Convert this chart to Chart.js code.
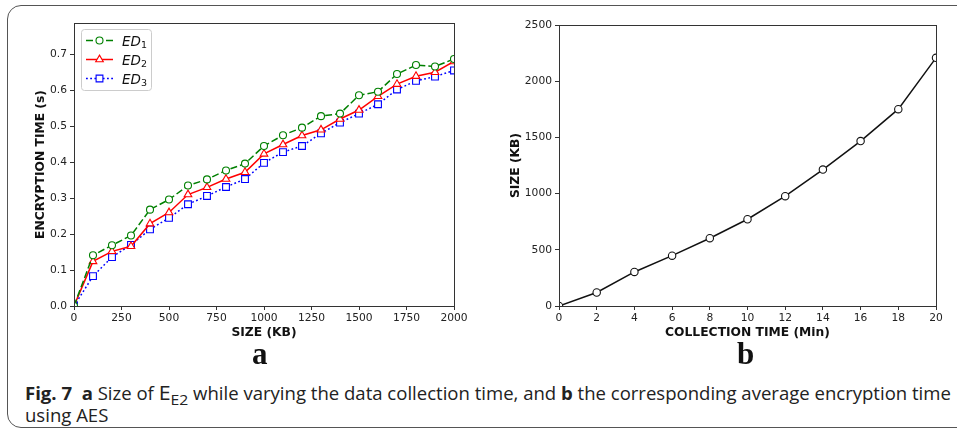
<!DOCTYPE html>
<html>
<head>
<meta charset="utf-8">
<script src="https://cdn.jsdelivr.net/npm/chart.js@4/dist/chart.umd.min.js"></script>
<style>
  html, body { margin: 0; padding: 0; background: #fff; }
  #page { position: relative; width: 957px; height: 431px; overflow: hidden; }
  #card {
    position: absolute; left: 7px; top: 5px; width: 970px; height: 423px;
    border: 1.5px solid #555; border-radius: 14px; box-sizing: border-box;
  }
  canvas { position: absolute; }
  #chartA { left: 0; top: 0; }
  #chartB { left: 480px; top: 0; }
  .panel {
    position: absolute; top: 339px; font-family: "Liberation Serif", "DejaVu Serif", serif;
    font-weight: bold; font-size: 31px; line-height: 30px; color: #111;
  }
  #caption {
    position: absolute; left: 25px; top: 381px; font-family: "Open Sans", "Noto Sans", sans-serif;
    font-size: 18px; line-height: 22px; color: #222; white-space: nowrap; transform-origin: 0 0;
  }
  #caption sub { font-size: 0.85em; vertical-align: -0.3em; line-height: 0; }
</style>
</head>
<body>
<div id="page">
  <div id="card"></div>
  <canvas id="chartA" width="480" height="345"></canvas>
  <canvas id="chartB" width="477" height="345"></canvas>
  <div class="panel" style="left:252px">a</div>
  <div class="panel" style="left:737px">b</div>
  <div id="caption">
    <div id="capLine1"><b>Fig. 7</b>&nbsp; <b>a</b> Size of <span style="font-size:1.15em">E</span><sub>E2</sub> while varying the data collection time, and <b>b</b> the corresponding average encryption time</div>
    <div>using AES</div>
  </div>
</div>
<script>
// panel a: encryption time vs size
const sizeKB = [0, 100, 200, 300, 400, 500, 600, 700, 800, 900, 1000, 1100, 1200, 1300, 1400, 1500, 1600, 1700, 1800, 1900, 2000];
const ed1 = [0, 0.141, 0.169, 0.196, 0.268, 0.296, 0.335, 0.352, 0.377, 0.396, 0.445, 0.475, 0.496, 0.528, 0.535, 0.586, 0.596, 0.645, 0.670, 0.666, 0.687];
const ed2 = [0, 0.124, 0.152, 0.166, 0.229, 0.260, 0.310, 0.330, 0.353, 0.372, 0.423, 0.449, 0.474, 0.490, 0.520, 0.545, 0.583, 0.617, 0.639, 0.650, 0.680];
const ed3 = [0, 0.083, 0.136, 0.170, 0.213, 0.245, 0.283, 0.306, 0.331, 0.353, 0.398, 0.428, 0.445, 0.480, 0.510, 0.535, 0.561, 0.602, 0.626, 0.638, 0.655];
const aTicksX = [0, 250, 500, 750, 1000, 1250, 1500, 1750, 2000];
const aTicksY = [0, 0.1, 0.2, 0.3, 0.4, 0.5, 0.6, 0.7];
const legendNames = ["ED|1", "ED|2", "ED|3"];

// panel b: size vs collection time
const collectMin = [0, 2, 4, 6, 8, 10, 12, 14, 16, 18, 20];
const sizeCollected = [0, 120, 303, 448, 603, 772, 977, 1214, 1467, 1751, 2208];
const bTicksX = [0, 2, 4, 6, 8, 10, 12, 14, 16, 18, 20];
const bTicksY = [0, 500, 1000, 1500, 2000, 2500];

const axisColor = "#333";
const tickFont = { family: "DejaVu Sans", size: 10.7 };
const titleFont = { family: "DejaVu Sans", size: 12.3, weight: "bold" };

function pts(xs, ys) {
  return xs.map((x, i) => ({ x: x, y: ys[i] }));
}

function fixedTicks(list) {
  return function (scale) {
    scale.ticks = list.map(v => ({ value: v }));
  };
}

const framePlugin = {
  id: "frame",
  afterDraw(chart) {
    const a = chart.chartArea;
    const ctx = chart.ctx;
    ctx.save();
    ctx.strokeStyle = axisColor;
    ctx.lineWidth = 1;
    ctx.strokeRect(Math.round(a.left) + 0.5, Math.round(a.top) + 0.5, Math.round(a.right - a.left), Math.round(a.bottom - a.top));
    ctx.restore();
  }
};

// legend drawn inside the plot like matplotlib's upper-left legend
const insideLegend = {
  id: "insideLegend",
  afterDraw(chart) {
    if (chart.canvas.id !== "chartA") return;
    const ctx = chart.ctx;
    const a = chart.chartArea;
    const bx = a.left + 7, by = a.top + 6, bw = 70, bh = 61;
    ctx.save();
    ctx.fillStyle = "rgba(255,255,255,0.85)";
    ctx.strokeStyle = "#ccc";
    ctx.lineWidth = 1;
    ctx.beginPath();
    ctx.roundRect(bx + 0.5, by + 0.5, bw, bh, 3);
    ctx.fill();
    ctx.stroke();
    chart.data.datasets.forEach((ds, i) => {
      const y = by + 11.5 + i * 19;
      const x0 = bx + 5, x1 = bx + 32;
      ctx.strokeStyle = ds.borderColor;
      ctx.lineWidth = ds.borderWidth;
      ctx.setLineDash(ds.borderDash || []);
      ctx.beginPath();
      ctx.moveTo(x0, y);
      ctx.lineTo(x1, y);
      ctx.stroke();
      ctx.setLineDash([]);
      ctx.fillStyle = "#fff";
      ctx.strokeStyle = ds.borderColor;
      ctx.lineWidth = ds.pointBorderWidth;
      Chart.helpers.drawPoint(ctx, {
        pointStyle: ds.pointStyle, radius: ds.pointRadius, borderWidth: ds.pointBorderWidth, rotation: 0
      }, (x0 + x1) / 2, y);
      const parts = legendNames[i].split("|");
      ctx.fillStyle = "#111";
      ctx.textBaseline = "alphabetic";
      ctx.font = "oblique 13.5px 'DejaVu Sans'";
      ctx.fillText(parts[0], bx + 41, y + 5);
      const w = ctx.measureText(parts[0]).width;
      ctx.font = "9.5px 'DejaVu Sans'";
      ctx.fillText(parts[1], bx + 41 + w, y + 7.5);
    });
    ctx.restore();
  }
};

function makeScales(opt) {
  return {
    x: {
      type: "linear",
      min: opt.xmin, max: opt.xmax,
      afterBuildTicks: fixedTicks(opt.xticks),
      afterFit(scale) { scale.height = 39; },
      grid: { drawOnChartArea: false, drawTicks: true, tickLength: 4, color: axisColor },
      border: { display: true, color: axisColor, width: 1 },
      ticks: { font: tickFont, color: "#222", padding: 2, maxRotation: 0, callback: opt.xfmt },
      title: { display: true, text: opt.xtitle, font: titleFont, color: "#111", padding: { top: 4, bottom: 5 } }
    },
    y: {
      type: "linear",
      min: 0, max: opt.ymax,
      afterBuildTicks: fixedTicks(opt.yticks),
      afterFit(scale) { scale.width = opt.yaxisWidth; },
      grid: { drawOnChartArea: false, drawTicks: true, tickLength: 4, color: axisColor },
      border: { display: true, color: axisColor, width: 1 },
      ticks: { font: tickFont, color: "#222", padding: 3, callback: opt.yfmt },
      title: { display: true, text: opt.ytitle, font: titleFont, color: "#111", padding: { top: opt.ytitlePad, bottom: 0 } }
    }
  };
}

const baseOptions = {
  responsive: false,
  animation: false,
  devicePixelRatio: 1,
  plugins: { legend: { display: false }, tooltip: { enabled: false } }
};

function lineSet(label, data, color, style, radius, dash) {
  return {
    label: label,
    data: data,
    borderColor: color,
    backgroundColor: "#fff",
    borderWidth: 1.5,
    borderDash: dash,
    pointStyle: style,
    pointRadius: radius,
    pointBorderWidth: 1.1,
    pointBackgroundColor: "#fff",
    pointBorderColor: color,
    tension: 0,
    fill: false
  };
}

new Chart(document.getElementById("chartA").getContext("2d"), {
  type: "line",
  data: {
    datasets: [
      lineSet("ED1", pts(sizeKB, ed1), "#008000", "circle", 3.5, [7, 3]),
      lineSet("ED2", pts(sizeKB, ed2), "#ff0000", "triangle", 4.4, []),
      lineSet("ED3", pts(sizeKB, ed3), "#0000ff", "rect", 4.8, [1.8, 2.4])
    ]
  },
  options: Object.assign({}, baseOptions, {
    layout: { padding: { left: 0, right: 26, top: 23, bottom: 0 } },
    scales: makeScales({
      xmin: 0, xmax: 2000, xticks: aTicksX, xtitle: "SIZE (KB)",
      ymax: 0.787, yticks: aTicksY, ytitle: "ENCRYPTION TIME (s)",
      yaxisWidth: 74, ytitlePad: 33,
      xfmt: v => String(v), yfmt: v => v.toFixed(1)
    })
  }),
  plugins: [framePlugin, insideLegend]
});

new Chart(document.getElementById("chartB").getContext("2d"), {
  type: "line",
  data: {
    datasets: [
      lineSet("size", pts(collectMin, sizeCollected), "#111", "circle", 3.7, [])
    ]
  },
  options: Object.assign({}, baseOptions, {
    layout: { padding: { left: 0, right: 21, top: 25, bottom: 0 } },
    scales: makeScales({
      xmin: 0, xmax: 20, xticks: bTicksX, xtitle: "COLLECTION TIME (Min)",
      ymax: 2500, yticks: bTicksY, ytitle: "SIZE (KB)",
      yaxisWidth: 79, ytitlePad: 28.5,
      xfmt: v => String(v), yfmt: v => String(v)
    })
  }),
  plugins: [framePlugin]
});

// squeeze the caption's first line to the printed width
const cap = document.getElementById("caption");
const w1 = document.getElementById("capLine1").scrollWidth;
cap.style.transform = "scaleX(" + (926 / w1) + ")";
</script>
</body>
</html>
